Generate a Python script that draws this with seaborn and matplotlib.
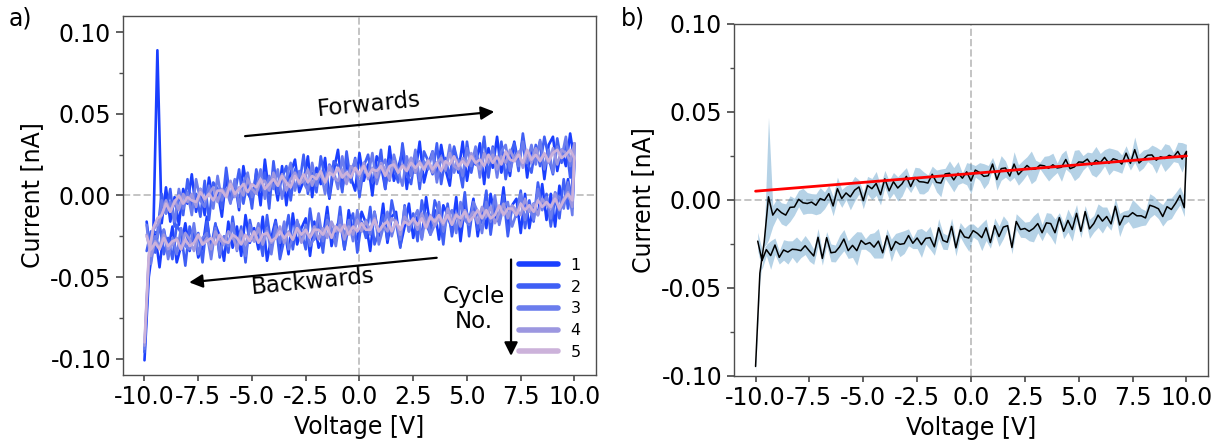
import numpy as np
import pandas as pd
import seaborn as sns
import matplotlib.pyplot as plt
from matplotlib.ticker import MultipleLocator

# ---------------- data (currents in pA, 1 nA = 1000 pA) ----------------
V_fwd = np.linspace(-10, 10, 101)        # forward sweep voltage [V], 0.2 V steps
V_bwd = np.linspace(9.9, -9.9, 100)      # backward sweep voltage [V], 0.2 V steps

cycles = ['1', '2', '3', '4', '5']
cycle_colors = ['#1a3fff', '#3f5ff5', '#6b7ded', '#9c97e0', '#ccb2da']

I_fwd_1 = [-101, -50, -30, 89, -17, 5, -16, -1, -18, 4,
           -5, 13, -10, 4, -12, 11, -3, 3, -13, 12,
           -4, 9, -9, 18, 2, -4, 14, -6, 22, 1,
           11, -3, 18, -6, 14, 22, 2, 9, 24, -1,
           17, 7, 23, -2, 15, 28, 4, 20, 11, 3,
           26, 9, 19, 0, 24, 19, 4, 30, 9, 17,
           27, 4, 23, 14, 33, 8, 19, 27, 10, 31,
           16, 6, 29, 14, 33, 9, 25, 19, 32, 7,
           29, 17, 36, 14, 25, 12, 33, 19, 35, 11,
           29, 23, 33, 10, 31, 36, 15, 28, 18, 38,
           21]
I_fwd_2 = [-96, -44, -22, -23, 1, -11, 4, -19, 2, -12,
           10, -7, 1, -13, 9, -15, 8, 4, -8, 17,
           -3, 1, 16, -5, 9, -8, 16, 3, 14, -8,
           21, 1, 11, 18, -3, 16, 6, 25, 1, 14,
           2, 24, 10, -1, 21, 18, 2, 27, 8, 23,
           -1, 18, 25, 8, 12, 28, 4, 22, 17, 8,
           32, 13, 7, 25, 4, 27, 21, 13, 32, 7,
           23, 11, 30, 19, 5, 33, 14, 27, 18, 36,
           11, 30, 17, 33, 10, 25, 32, 15, 38, 20,
           14, 31, 18, 36, 23, 13, 35, 20, 33, 11,
           32]
I_fwd_3 = [-94, -40, -27, -25, -3, -11, -4, -16, 4, -8,
           2, -12, 10, -3, -7, 6, -8, 12, -3, 4,
           -5, 10, -7, 8, 14, -1, 5, 16, -2, 12,
           4, 16, -2, 11, 20, 3, 15, 8, 3, 20,
           6, 15, 1, 19, 15, 4, 24, 8, 14, 22,
           4, 20, 12, 26, 7, 17, 22, 9, 25, 15,
           6, 24, 12, 28, 9, 21, 16, 27, 8, 24,
           15, 31, 14, 22, 12, 29, 18, 30, 11, 26,
           21, 29, 11, 27, 31, 15, 25, 18, 33, 20,
           31, 19, 34, 16, 28, 14, 30, 23, 36, 18,
           30]
I_fwd_4 = [-92, -38, -21, -18, -12, -3, -10, -3, -9, 1,
           -4, 1, -7, 4, -3, 1, 5, -4, 4, 0,
           9, -1, 5, 0, 10, 4, 1, 9, 9, 3,
           14, 6, 13, 3, 10, 14, 7, 9, 16, 6,
           13, 12, 8, 18, 11, 9, 16, 7, 18, 15,
           12, 20, 10, 17, 11, 20, 16, 10, 21, 14,
           19, 16, 23, 14, 21, 16, 22, 14, 20, 23,
           16, 26, 18, 16, 23, 19, 26, 20, 16, 26,
           20, 25, 16, 24, 20, 28, 22, 27, 17, 26,
           20, 29, 22, 25, 20, 29, 19, 28, 26, 21,
           32]
I_fwd_5 = [-90, -36, -20, -14, -12, -5, -10, -4, 0, -5,
           -1, -3, -4, 2, -2, 1, -3, 3, 3, -1,
           7, 1, 4, 7, 2, 7, 5, 10, 4, 7,
           10, 6, 12, 8, 5, 12, 8, 13, 8, 12,
           10, 15, 8, 14, 12, 17, 11, 14, 11, 17,
           13, 18, 12, 16, 15, 18, 12, 18, 19, 14,
           18, 15, 20, 17, 20, 16, 21, 16, 20, 15,
           21, 19, 24, 18, 21, 18, 24, 20, 22, 18,
           25, 20, 24, 19, 27, 22, 21, 25, 20, 28,
           22, 25, 21, 26, 21, 26, 28, 23, 25, 28,
           23]

I_bwd_1 = [-8, 10, -6, 6, -19, 1, -15, 7, -12, -5,
           -20, 1, -23, -2, -6, -20, 5, -16, -13, 1,
           -20, -8, -25, -2, -16, -6, -28, -1, -21, -12,
           -6, -27, -9, -20, -1, -26, -13, -26, -5, -19,
           -31, -10, -13, -29, -5, -25, -10, -34, -17, -10,
           -27, -23, -9, -33, -15, -20, -31, -7, -26, -32,
           -16, -37, -14, -20, -30, -11, -36, -20, -34, -15,
           -26, -40, -13, -33, -20, -29, -12, -37, -19, -32,
           -16, -40, -25, -18, -36, -13, -32, -38, -21, -34,
           -17, -31, -41, -19, -34, -21, -44, -24, -38, -16]
I_bwd_2 = [8, -8, 10, -14, -1, -19, 1, -8, 8, -16,
           -3, -20, 3, -13, -7, -25, 0, -17, -5, -24,
           3, -15, -21, -4, -25, 2, -19, -11, -25, -5,
           -30, -10, -3, -24, -17, -3, -28, -11, -22, -6,
           -32, -16, -3, -27, -12, -22, -30, -7, -26, -16,
           -35, -11, -18, -33, -7, -28, -22, -12, -35, -16,
           -27, -8, -33, -22, -16, -33, -12, -27, -39, -16,
           -31, -12, -37, -22, -28, -15, -41, -19, -32, -13,
           -35, -25, -38, -17, -32, -16, -41, -23, -29, -19,
           -43, -23, -18, -39, -26, -36, -17, -35, -22, -34]
I_bwd_3 = [-12, 8, -8, -2, 2, -14, -1, -9, 4, -15,
           -6, -15, 1, -11, -19, -4, -6, -18, 0, -16,
           -4, -23, -10, -4, -18, -15, -4, -23, -9, -13,
           -22, -4, -18, -24, -11, -27, -9, -15, -22, -7,
           -27, -15, -25, -10, -20, -30, -10, -24, -15, -22,
           -9, -28, -15, -25, -13, -31, -20, -15, -28, -11,
           -26, -31, -18, -28, -15, -26, -33, -16, -29, -19,
           -36, -20, -30, -17, -28, -18, -37, -21, -34, -17,
           -31, -25, -36, -20, -39, -23, -26, -36, -17, -33,
           -31, -20, -36, -26, -39, -21, -32, -25, -42, -18]
I_bwd_4 = [-7, 2, -2, -9, 1, -8, -6, -2, -12, -5,
           -10, -2, -12, -9, -6, -14, -5, -11, -17, -7,
           -13, -7, -17, -10, -14, -9, -19, -11, -16, -8,
           -18, -14, -19, -12, -18, -11, -21, -15, -17, -13,
           -24, -16, -14, -22, -18, -22, -14, -21, -16, -22,
           -15, -24, -19, -27, -18, -22, -16, -26, -20, -27,
           -19, -25, -22, -29, -20, -27, -22, -29, -19, -26,
           -29, -22, -30, -20, -28, -25, -30, -22, -33, -25,
           -22, -30, -27, -22, -33, -26, -30, -24, -34, -27,
           -23, -33, -26, -30, -33, -24, -32, -28, -37, -24]
I_bwd_5 = [-3, 1, -3, -8, -2, -7, -4, -7, -3, -10,
           -6, -9, -5, -12, -8, -8, -12, -6, -12, -14,
           -9, -14, -9, -13, -16, -10, -14, -12, -18, -12,
           -17, -12, -16, -13, -20, -14, -18, -14, -18, -16,
           -21, -16, -22, -16, -18, -22, -15, -21, -21, -17,
           -22, -19, -24, -18, -22, -19, -26, -19, -24, -21,
           -21, -26, -21, -24, -20, -27, -23, -26, -22, -26,
           -28, -23, -24, -29, -22, -28, -24, -30, -26, -24,
           -29, -28, -24, -30, -26, -28, -30, -24, -29, -31,
           -27, -33, -27, -28, -31, -26, -33, -29, -33, -25]

# linear fit shown in panel b
fit_V = [-10, 10]
fit_I = [0.005, 0.025]

fwd_all = [I_fwd_1, I_fwd_2, I_fwd_3, I_fwd_4, I_fwd_5]
bwd_all = [I_bwd_1, I_bwd_2, I_bwd_3, I_bwd_4, I_bwd_5]

frames = []
for c, f, b in zip(cycles, fwd_all, bwd_all):
    frames.append(pd.DataFrame({
        'V': np.concatenate([V_fwd, V_bwd]),
        'I': np.concatenate([np.array(f), np.array(b)]) / 1000.0,
        'cycle': c,
    }))
df = pd.concat(frames, ignore_index=True)

# ---------------- style ----------------
sns.set_theme(style='ticks', rc={
    'axes.edgecolor': '0.3', 'axes.linewidth': 1.0,
    'xtick.color': '0.3', 'ytick.color': '0.3',
    'xtick.labelcolor': 'black', 'ytick.labelcolor': 'black',
    'text.color': 'black', 'axes.labelcolor': 'black',
    'xtick.labelsize': 17, 'ytick.labelsize': 17,
    'axes.labelsize': 17, 'xtick.major.size': 4, 'ytick.major.size': 5,
    'ytick.minor.size': 3, 'axes.unicode_minus': False,
})
plt.rcParams['font.family'] = ['DejaVu Sans']
plt.rcParams['axes.unicode_minus'] = False

fig = plt.figure(figsize=(12.25, 4.44), dpi=100)
ax1 = fig.add_axes([0.1004, 0.1554, 0.3861, 0.8086])
ax2 = fig.add_axes([0.5992, 0.1532, 0.3869, 0.7928])

grid_kw = dict(color='#c4c4c4', ls='--', lw=1.4, zorder=0)

# ---------------- panel a ----------------
ax1.axhline(0, **grid_kw)
ax1.axvline(0, **grid_kw)
sns.lineplot(data=df, x='V', y='I', hue='cycle', hue_order=cycles,
             palette=dict(zip(cycles, cycle_colors)), sort=False,
             estimator=None, lw=1.9, ax=ax1)
handles, labels = ax1.get_legend_handles_labels()
leg = ax1.legend(handles, labels, loc='lower right', frameon=False,
                 fontsize=11.5, labelspacing=0.42, handlelength=2.4,
                 borderaxespad=0.55)
for h in leg.get_lines():
    h.set_linewidth(4)

ax1.set_xlim(-11, 11)
ax1.set_ylim(-0.11, 0.11)
ax1.xaxis.set_major_locator(MultipleLocator(2.5))
ax1.yaxis.set_major_locator(MultipleLocator(0.05))
ax1.yaxis.set_minor_locator(MultipleLocator(0.025))
ax1.set_xlabel('Voltage [V]')
ax1.set_ylabel('Current [nA]')

arrow_kw = dict(arrowstyle='-|>', color='black', lw=1.6, mutation_scale=20)
ax1.annotate('', xy=(6.4, 0.0515), xytext=(-5.45, 0.0362), arrowprops=arrow_kw)
ax1.text(0.45, 0.0555, 'Forwards', fontsize=16.5, rotation=5.5,
         ha='center', va='center')
ax1.annotate('', xy=(-8.05, -0.0534), xytext=(3.72, -0.038), arrowprops=arrow_kw)
ax1.text(-2.15, -0.0525, 'Backwards', fontsize=16.5, rotation=5.5,
         ha='center', va='center')
ax1.annotate('', xy=(7.05, -0.1), xytext=(7.05, -0.0375), arrowprops=arrow_kw)
ax1.text(5.3, -0.0695, 'Cycle\nNo.', fontsize=16.5, ha='center', va='center',
         multialignment='center', linespacing=1.15)

# ---------------- panel b ----------------
ax2.axhline(0, **grid_kw)
ax2.axvline(0, **grid_kw)
sns.lineplot(data=df, x='V', y='I', sort=False, errorbar=('ci', 95), seed=0,
             color='#1f77b4', lw=0, err_kws={'alpha': 0.33, 'lw': 0}, ax=ax2)
sns.lineplot(data=df, x='V', y='I', sort=False, errorbar=None,
             color='black', lw=1.1, ax=ax2)
sns.lineplot(x=fit_V, y=fit_I, color='red', lw=2, ax=ax2)

ax2.set_xlim(-11, 11)
ax2.set_ylim(-0.1, 0.1)
ax2.xaxis.set_major_locator(MultipleLocator(2.5))
ax2.yaxis.set_major_locator(MultipleLocator(0.05))
ax2.yaxis.set_minor_locator(MultipleLocator(0.025))
ax2.set_xlabel('Voltage [V]')
ax2.set_ylabel('Current [nA]')

for ax in (ax1, ax2):
    for s in ax.spines.values():
        s.set_visible(True)

fig.text(0.007, 0.985, 'a)', fontsize=17, ha='left', va='top')
fig.text(0.507, 0.985, 'b)', fontsize=17, ha='left', va='top')

fig.savefig('out.png', dpi=100)
